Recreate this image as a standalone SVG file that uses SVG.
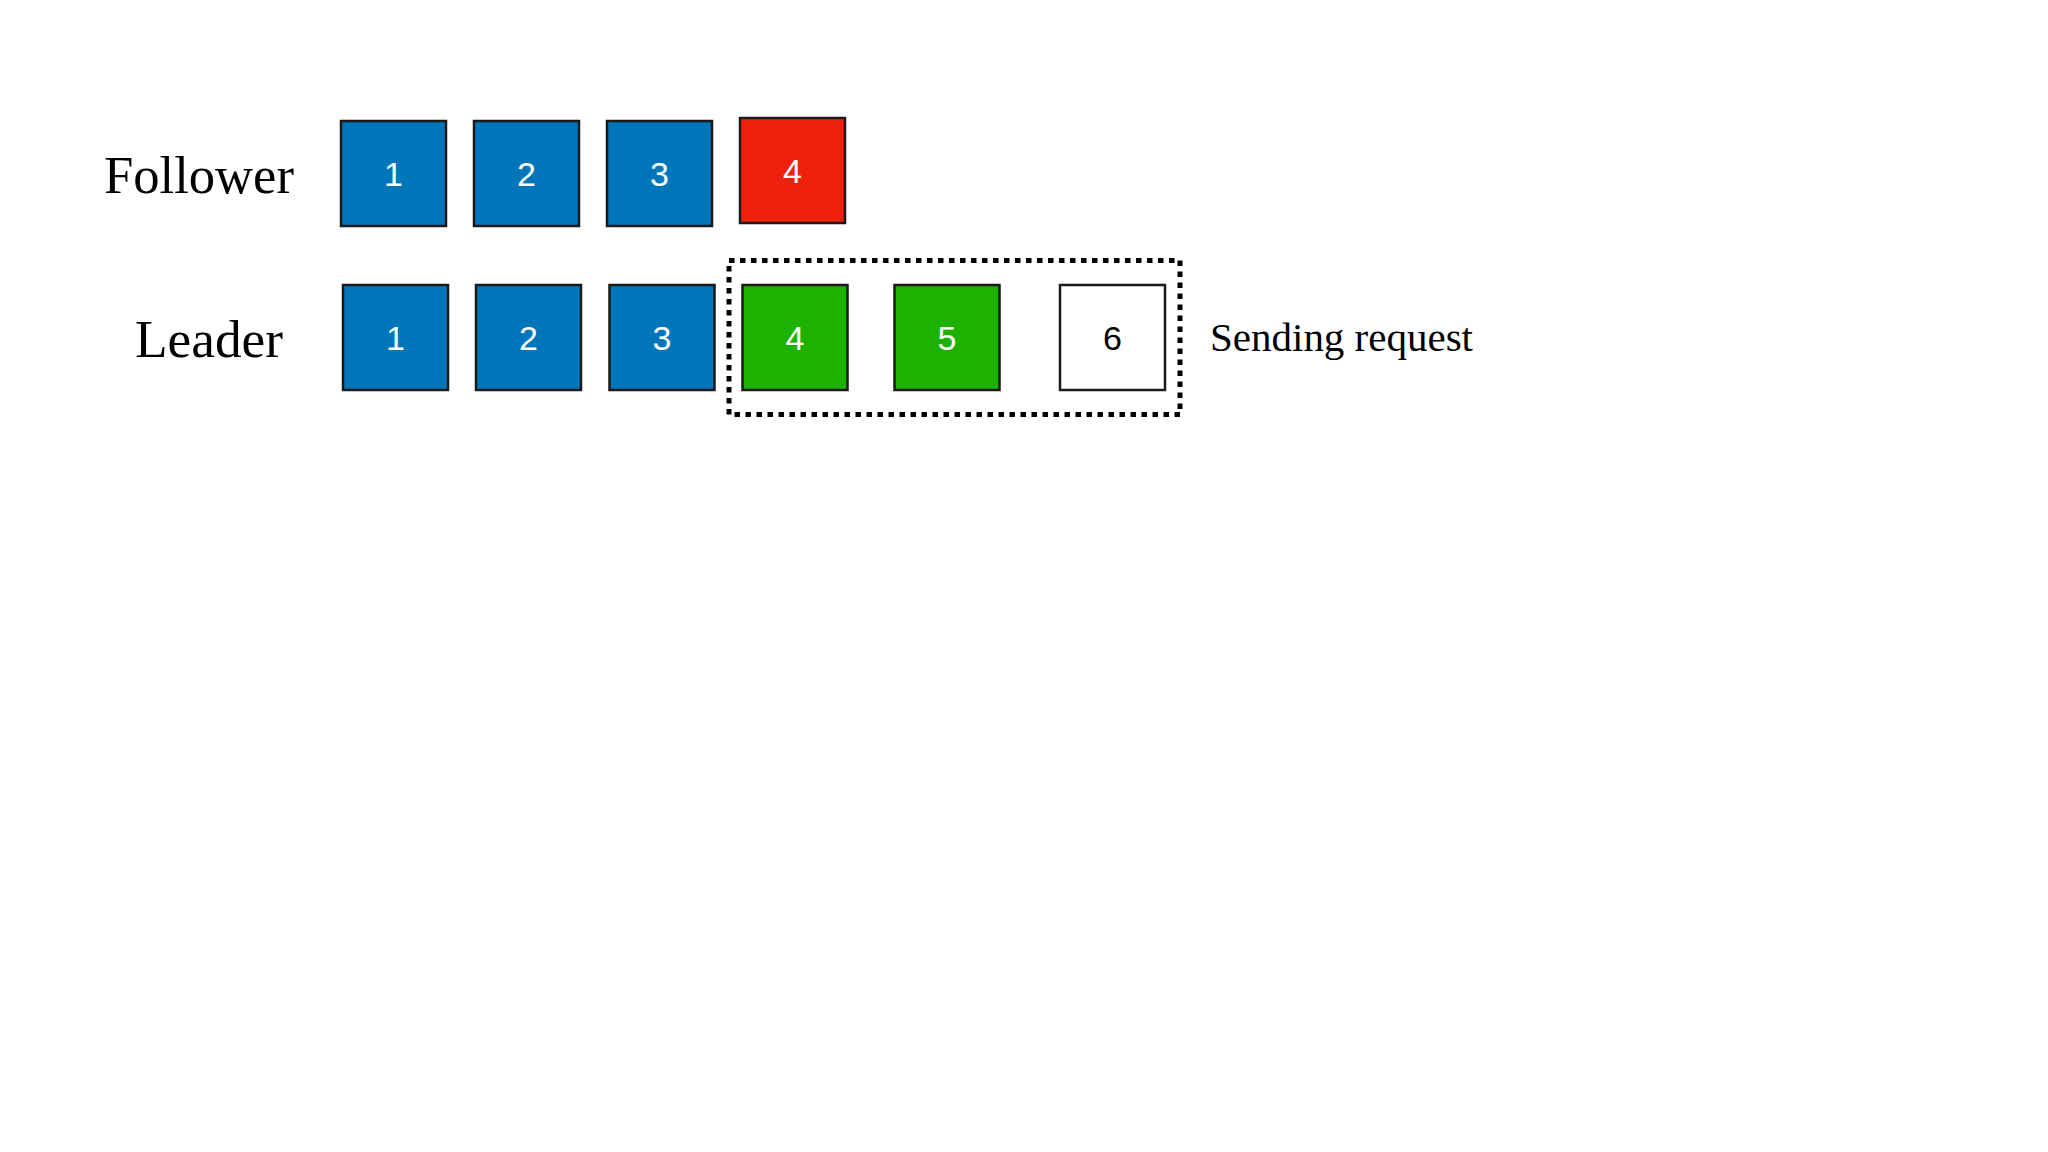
<svg xmlns="http://www.w3.org/2000/svg" width="2048" height="1152" viewBox="0 0 2048 1152">
<style>
.lbl{font-family:"Liberation Serif","Times New Roman",serif;fill:#000}
.box{stroke:#1a1a1a;stroke-width:2.5}
.num{font-family:"Liberation Sans",Arial,sans-serif;font-size:34px;text-anchor:middle;fill:#fff}
.blue{fill:#0076BA}
.red{fill:#EE220C}
.green{fill:#1DB100}
.white{fill:#fff}
</style>
<rect width="2048" height="1152" fill="#fff"/>
<g id="labels">
<text class="lbl" x="104" y="193" font-size="52" textLength="190" lengthAdjust="spacingAndGlyphs">Follower</text>
<text class="lbl" x="135" y="357" font-size="52" textLength="148" lengthAdjust="spacingAndGlyphs">Leader</text>
<text class="lbl" x="1210" y="351" font-size="40" textLength="263" lengthAdjust="spacingAndGlyphs">Sending request</text>
</g>
<g id="follower">
<g id="f1"><rect class="box blue" x="341" y="121" width="105" height="105"/><text class="num" x="393.5" y="186">1</text></g>
<g id="f2"><rect class="box blue" x="474" y="121" width="105" height="105"/><text class="num" x="526.5" y="186">2</text></g>
<g id="f3"><rect class="box blue" x="607" y="121" width="105" height="105"/><text class="num" x="659.5" y="186">3</text></g>
<g id="f4"><rect class="box red" x="740" y="118" width="105" height="105"/><text class="num" x="792.5" y="183">4</text></g>
</g>
<g id="leader">
<g id="l1"><rect class="box blue" x="343" y="285" width="105" height="105"/><text class="num" x="395.5" y="350">1</text></g>
<g id="l2"><rect class="box blue" x="476" y="285" width="105" height="105"/><text class="num" x="528.5" y="350">2</text></g>
<g id="l3"><rect class="box blue" x="609.5" y="285" width="105" height="105"/><text class="num" x="662" y="350">3</text></g>
<g id="l4"><rect class="box green" x="742.5" y="285" width="105" height="105"/><text class="num" x="795" y="350">4</text></g>
<g id="l5"><rect class="box green" x="894.5" y="285" width="105" height="105"/><text class="num" x="947" y="350">5</text></g>
<g id="l6"><rect class="box white" x="1060" y="285" width="105" height="105"/><text class="num" x="1112.5" y="350" style="fill:#000">6</text></g>
</g>
<g id="connectors">
<rect id="window" x="729" y="260.5" width="451" height="154" fill="none" stroke="#000" stroke-width="5" stroke-dasharray="5.5 5.5"/>
</g>
</svg>
